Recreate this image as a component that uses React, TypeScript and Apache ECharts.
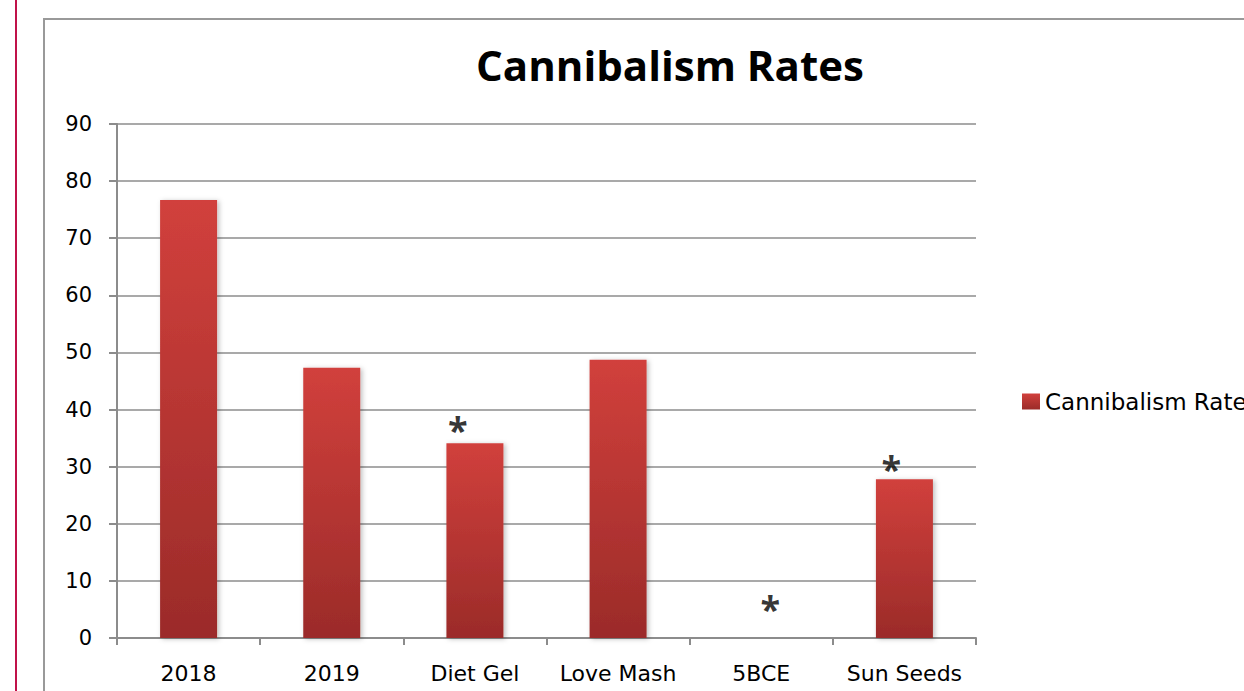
import React, { useEffect, useRef } from "react";
import * as echarts from "echarts";

const categories = ["2018", "2019", "Diet Gel", "Love Mash", "5BCE", "Sun Seeds"];
const rates = [76.7, 47.3, 34.1, 48.7, 0, 27.8];
// significance markers (value position of the asterisk), null = none
const markerValues: (number | null)[] = [null, null, 37.6, null, 6.3, 30.8];
const markerOffsetsX = [0, 0, -17, 0, 9, -13];
const yTicks = { min: 0, max: 90, interval: 10 };
const seriesName = "Cannibalism Rate";
const titleText = "Cannibalism Rates";

const TITLE_FONT = "'Open Sans', sans-serif";
const FONT = "'DejaVu Sans', sans-serif";

export default function App() {
  const ref = useRef<HTMLDivElement>(null);
  useEffect(() => {
    if (!ref.current) return;
    const chart = echarts.init(ref.current, null, { renderer: "svg" });
    const barGradient = new echarts.graphic.LinearGradient(0, 0, 0, 1, [
      { offset: 0, color: "#d1403c" },
      { offset: 1, color: "#9b2b29" },
    ]);
    chart.setOption({
      animation: false,
      backgroundColor: "#ffffff",
      title: {
        text: titleText,
        left: 665,
        textAlign: "center",
        top: 38,
        textStyle: { fontFamily: TITLE_FONT, fontSize: 42, fontWeight: "bold", color: "#000" },
      },
      legend: {
        left: 1022,
        top: 390,
        padding: 0,
        itemWidth: 18,
        itemHeight: 16,
        itemGap: 8,
        data: [{ name: seriesName, icon: "rect" }],
        textStyle: { fontFamily: FONT, fontSize: 23, color: "#000", padding: [0, 0, 0, 0] },
      },
      grid: { left: 117, right: 268, top: 124, bottom: 53, containLabel: false },
      xAxis: {
        type: "category",
        data: categories,
        axisLine: { show: true, lineStyle: { color: "#8c8c8c", width: 2 } },
        axisTick: { show: true, length: 7, lineStyle: { color: "#8c8c8c", width: 2 } },
        axisLabel: { fontFamily: FONT, fontSize: 22, color: "#000", margin: 24, interval: 0 },
      },
      yAxis: {
        type: "value",
        min: yTicks.min,
        max: yTicks.max,
        interval: yTicks.interval,
        axisLine: { show: true, lineStyle: { color: "#8c8c8c", width: 2 } },
        axisTick: { show: true, length: 8, lineStyle: { color: "#8c8c8c", width: 2 } },
        splitLine: { show: true, lineStyle: { color: "#8c8c8c", width: 1.5 } },
        axisLabel: { fontFamily: FONT, fontSize: 21, color: "#000", margin: 25 },
      },
      graphic: [
        {
          type: "line",
          shape: { x1: 16, y1: 0, x2: 16, y2: 691 },
          style: { stroke: "#c0124a", lineWidth: 2 },
          silent: true,
        },
        {
          type: "rect",
          shape: { x: 44, y: 19, width: 1300, height: 800 },
          style: { fill: "none", stroke: "#999999", lineWidth: 2 },
          silent: true,
          z: -10,
        },
      ],
      series: [
        {
          name: seriesName,
          type: "bar",
          data: rates,
          barWidth: 57,
          itemStyle: {
            color: barGradient,
            shadowBlur: 5,
            shadowColor: "rgba(0,0,0,0.25)",
            shadowOffsetX: 2,
            shadowOffsetY: 1,
          },
        },
        {
          name: "markers",
          type: "scatter",
          symbolSize: 0,
          silent: true,
          itemStyle: { color: "#000" },
          data: markerValues.map((v, i) =>
            v === null
              ? null
              : {
                  value: v,
                  label: {
                    show: true,
                    position: "inside",
                    formatter: "*",
                    offset: [markerOffsetsX[i], 6],
                    fontFamily: TITLE_FONT,
                    fontSize: 36,
                    fontWeight: "bold",
                    color: "#000",
                    textBorderWidth: 0,
                    textBorderColor: "transparent",
                  },
                }
          ),
        },
      ],
    });
    return () => chart.dispose();
  }, []);
  return (
    <div
      ref={ref}
      style={{ position: "fixed", left: 0, top: 0, width: 1244, height: 691 }}
    />
  );
}
